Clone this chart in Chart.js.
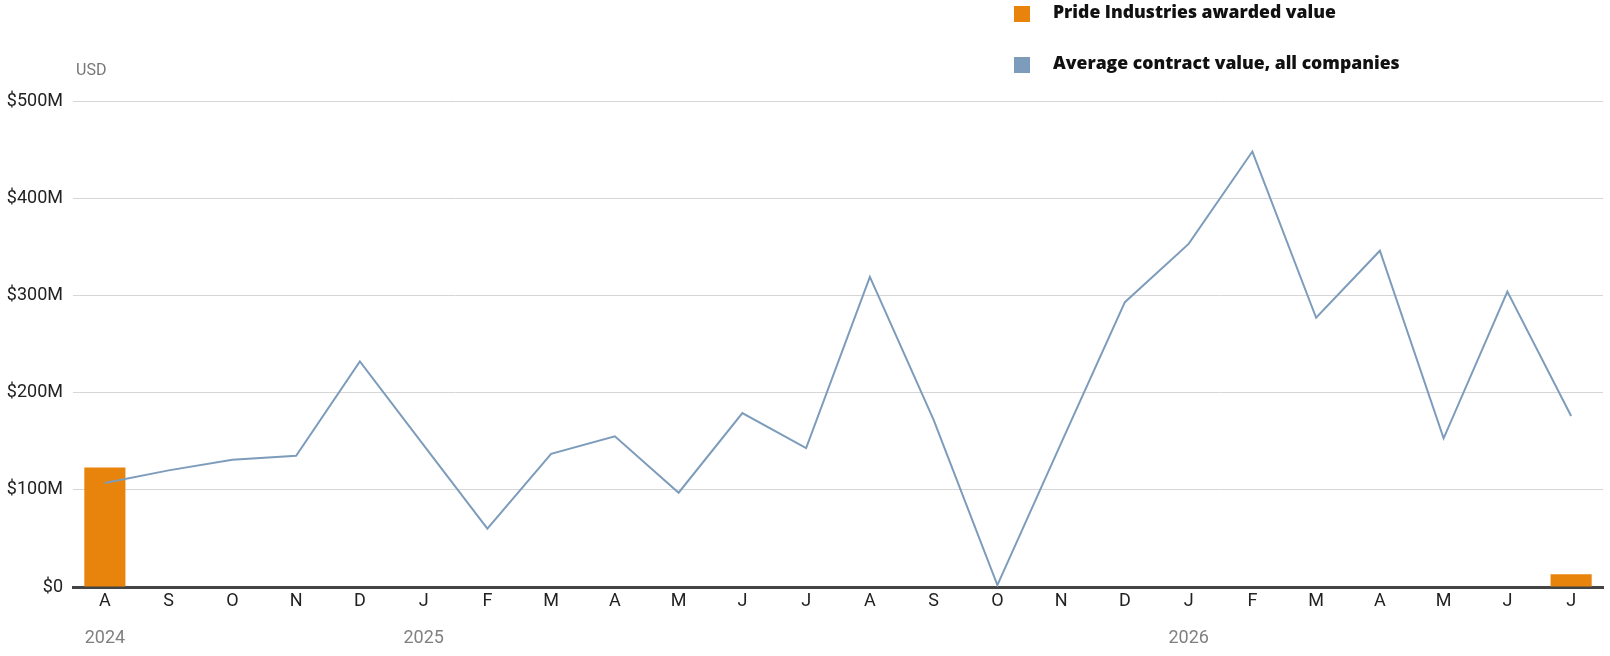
<!DOCTYPE html>
<html>
<head>
<meta charset="utf-8">
<script src="https://cdn.jsdelivr.net/npm/chart.js@4/dist/chart.umd.min.js"></script>
<style>
  html, body { margin: 0; padding: 0; background: #fff; }
  #wrap { position: relative; width: 1610px; height: 656px; }
  .legend { position: absolute; left: 1014px; font-family: "Open Sans", "Liberation Sans", sans-serif; font-weight: 800; font-size: 17.6px; color: #111; }
  .legend span.sw { position: absolute; left: 0; width: 16px; height: 16px; }
  .legend span.tx { position: absolute; left: 39px; white-space: nowrap; line-height: 16px; top: -3px; }
  #unit { position: absolute; left: 76px; top: 60px; font-family: Roboto, sans-serif; font-size: 16px; color: #777; }
</style>
</head>
<body>
<div id="wrap">
  <canvas id="chart" width="1610" height="656"></canvas>
  <div class="legend" style="top:6px"><span class="sw" style="background:#e8830c"></span><span class="tx">Pride Industries awarded value</span></div>
  <div class="legend" style="top:57px"><span class="sw" style="background:#7d9cbb"></span><span class="tx">Average contract value, all companies</span></div>
  <div id="unit">USD</div>
</div>
<script>
// month initials, Aug 2024 .. Jul 2026
const months = ['A','S','O','N','D','J','F','M','A','M','J','J','A','S','O','N','D','J','F','M','A','M','J','J'];
const yearLabels = ['2024','','','','','2025','','','','','','','','','','','','2026','','','','','',''];

// values in $M
const prideAwarded = [123, null, null, null, null, null, null, null, null, null, null, null,
                      null, null, null, null, null, null, null, null, null, null, null, 13];
const avgContract = [107, 120, 131, 135, 232, 146, 60, 137, 155, 97, 179, 143,
                     319, 172, 2, 148, 293, 353, 448, 277, 346, 153, 304, 176];

const yTicks = [0, 100, 200, 300, 400, 500];

const tickFont = { family: 'Roboto, sans-serif', size: 18 };

new Chart(document.getElementById('chart').getContext('2d'), {
    data: {
        labels: months,
        datasets: [
            {
                type: 'line',
                label: 'Average contract value, all companies',
                data: avgContract,
                borderColor: '#7d9cbb',
                borderWidth: 2,
                pointRadius: 0,
                tension: 0,
                order: 0
            },
            {
                type: 'bar',
                label: 'Pride Industries awarded value',
                data: prideAwarded,
                backgroundColor: '#e8830c',
                barPercentage: 0.645,
                categoryPercentage: 1,
                order: 1
            }
        ]
    },
    options: {
        responsive: false,
        animation: false,
        layout: { padding: { top: 101, right: 7, bottom: 7, left: 0 } },
        plugins: {
            legend: { display: false },
            tooltip: { enabled: false }
        },
        scales: {
            x: {
                type: 'category',
                grid: { display: false, drawTicks: false },
                border: { display: true, color: '#444', width: 3 },
                ticks: { color: '#222', font: tickFont, padding: 4, maxRotation: 0, autoSkip: false },
                afterFit: s => { s.height = 27; }
            },
            x2: {
                type: 'category',
                labels: yearLabels,
                position: 'bottom',
                offset: true,
                grid: { display: false, drawTicks: false },
                border: { display: false },
                ticks: { color: '#808080', font: tickFont, padding: 14, maxRotation: 0, autoSkip: false },
                afterFit: s => { s.height = 35; }
            },
            y: {
                min: 0,
                max: 500,
                afterBuildTicks: s => { s.ticks = yTicks.map(v => ({ value: v })); },
                grid: { color: '#d6d6d6', lineWidth: 1, drawTicks: false },
                border: { display: false },
                ticks: {
                    color: '#222',
                    font: tickFont,
                    padding: 10,
                    callback: v => v === 0 ? '$0' : '$' + v + 'M'
                },
                afterFit: s => { s.width = 73; }
            }
        }
    }
});
</script>
</body>
</html>
